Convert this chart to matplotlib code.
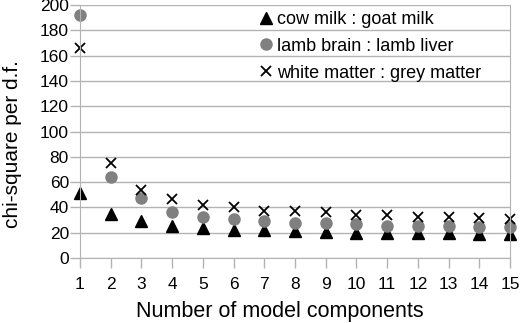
import numpy as np
import matplotlib
matplotlib.use("Agg")
import matplotlib.pyplot as plt

plt.rcParams['font.family'] = ['Liberation Sans', 'DejaVu Sans']

# %%
# values
components = list(range(1, 16))
cow_goat = [51, 35, 29, 25.5, 24, 22.5, 22, 21, 20.5, 20, 20, 19.5, 19.5, 19, 19]
brain_liver = [192, 64, 47.5, 36.7, 32.7, 30.5, 29, 28, 27.3, 26.5, 25.5, 25, 25.2, 24.5, 24.5]
white_grey = [166, 75, 54, 47, 41.7, 40.4, 37.5, 37, 36.4, 34.3, 33.7, 32.4, 32.4, 31.6, 30.8]
labels = ['cow milk : goat milk', 'lamb brain : lamb liver', 'white matter : grey matter']
y_ticks = list(range(0, 201, 20))

# %%
grid_col = '#b3b3b3'
fig = plt.figure(figsize=(5.2, 3.23), dpi=100)
ax = fig.add_axes([80 / 520, 65 / 323, 430 / 520, 253 / 323])

ax.plot(components, cow_goat, ls='none', marker='^', ms=8.5, color='black',
        label=labels[0], clip_on=False)
ax.plot(components, brain_liver, ls='none', marker='o', ms=8, color='#808080',
        label=labels[1], clip_on=False)
ax.plot(components, white_grey, ls='none', marker='x', ms=7, mew=1.3, color='black',
        label=labels[2], clip_on=False)

ax.set_xlim(1, 15)
ax.set_ylim(0, 200)
ax.set_xticks(components)
ax.set_yticks(y_ticks)
ax.yaxis.grid(True, color=grid_col, lw=1)
ax.set_axisbelow(True)
for s in ['left', 'bottom', 'right']:
    ax.spines[s].set_color(grid_col)
ax.spines['top'].set_visible(False)
ax.tick_params(axis='both', colors=grid_col, labelcolor='black', labelsize=12.5, length=7, width=1)
ax.tick_params(axis='x', pad=7)
ax.tick_params(axis='y', pad=1)

ax.set_xlabel('Number of model components', fontsize=15.5)
ax.set_ylabel('chi-square per d.f.', fontsize=15)
ax.xaxis.set_label_coords(0.465, -0.17)
ax.yaxis.set_label_coords(-0.135, 0.45)

ax.legend(loc='upper left', bbox_to_anchor=(248 / 520, 1.0), bbox_transform=fig.transFigure,
          frameon=False, fontsize=13, handlelength=0.8, handletextpad=0.2,
          labelspacing=0.55, borderaxespad=0.2)

fig.savefig('out.png', dpi=100)
